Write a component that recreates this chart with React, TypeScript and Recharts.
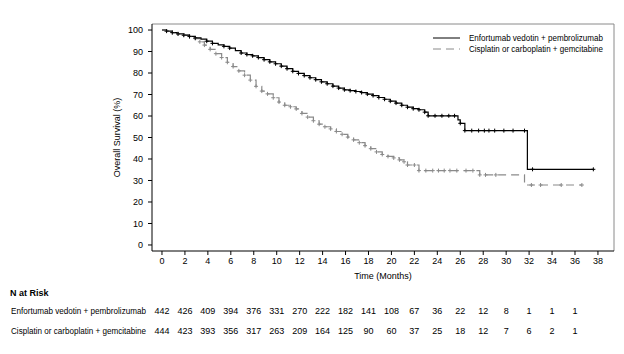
import { Legend, Line, LineChart, ReferenceLine, XAxis, YAxis } from "recharts";

// [months, survival %, censored mark]
const evpCurve: [number, number, number][] = [
  [0, 100, 0], [0.4, 99.5, 1], [0.9, 98.8, 1], [1.4, 98.2, 1], [1.9, 97.6, 1],
  [2.4, 97, 1], [2.9, 96.3, 1], [3.4, 95.8, 0], [3.9, 94.8, 1], [4.4, 93.8, 1],
  [4.9, 93.1, 0], [5.4, 92.4, 1], [5.9, 91.6, 1], [6.4, 90.4, 0], [6.9, 89.3, 1],
  [7.4, 88.6, 1], [7.9, 88, 1], [8.4, 87.2, 1], [8.9, 86.2, 1], [9.4, 85.2, 1],
  [9.9, 84.3, 1], [10.4, 83.2, 1], [10.9, 82, 1], [11.4, 80.8, 1], [11.9, 79.8, 1],
  [12.4, 78.8, 1], [12.9, 77.8, 1], [13.4, 76.9, 1], [13.9, 75.9, 1], [14.4, 75, 1],
  [14.9, 73.9, 1], [15.4, 73, 1], [15.9, 72.2, 1], [16.4, 71.8, 1], [16.9, 71.4, 1],
  [17.4, 70.9, 1], [17.9, 70.2, 1], [18.4, 69.5, 1], [18.9, 68.6, 1], [19.4, 67.8, 1],
  [19.9, 66.9, 1], [20.4, 66, 1], [20.9, 65, 1], [21.4, 64.1, 1], [21.9, 63.4, 1],
  [22.4, 62.9, 1], [22.9, 61.8, 1], [23.2, 60.1, 1], [23.8, 60.1, 1], [24.4, 60.1, 1],
  [25, 60.1, 1], [25.5, 60.1, 1], [25.8, 58.2, 0], [26, 56.6, 1], [26.4, 53.2, 1],
  [27, 53.2, 1], [27.6, 53.2, 1], [28.1, 53.2, 1], [28.5, 53.2, 1], [29, 53.2, 1],
  [29.8, 53.2, 1], [30.6, 53.2, 1], [31.6, 53.2, 1], [31.85, 35.2, 0], [32.3, 35.2, 1],
  [37.6, 35.2, 1],
];

const chemoCurve: [number, number, number][] = [
  [0, 100, 0], [0.4, 99.5, 1], [0.9, 98.8, 1], [1.4, 98.2, 1], [1.9, 97.6, 1],
  [2.4, 96.9, 1], [2.9, 96, 1], [3.3, 94.5, 1], [3.7, 93, 1], [4.2, 91, 1],
  [4.7, 89, 1], [5.2, 87.2, 1], [5.7, 85, 1], [6.2, 83, 1], [6.7, 81, 1],
  [7.2, 79, 1], [7.7, 76.7, 1], [8.2, 73.8, 1], [8.7, 71.6, 1], [9.2, 70.3, 1],
  [9.7, 68.5, 1], [10.2, 66.5, 1], [10.7, 65, 1], [11.2, 64.3, 1], [11.7, 63.3, 1],
  [12.2, 61.2, 1], [12.7, 59.5, 1], [13.2, 57.8, 1], [13.7, 56.2, 1], [14.2, 55, 1],
  [14.7, 54, 1], [15.2, 52.8, 1], [15.7, 51.5, 1], [16.2, 50.2, 1], [16.7, 48.9, 1],
  [17.2, 47.6, 1], [17.7, 46.2, 1], [18.2, 44.8, 1], [18.7, 43.3, 1], [19.2, 42.1, 1],
  [19.7, 41.2, 1], [20.2, 40.5, 1], [20.7, 39.6, 1], [21.1, 38.7, 1], [21.4, 37.2, 1],
  [22, 37.2, 1], [22.4, 34.6, 1], [23, 34.6, 1], [23.6, 34.6, 1], [24.1, 34.6, 1],
  [24.6, 34.6, 1], [25.1, 34.6, 1], [25.7, 34.6, 1], [26.5, 34.6, 1], [27.1, 34.6, 1],
  [27.7, 32.6, 1], [28.2, 32.6, 1], [29.1, 32.6, 1], [31.6, 27.9, 0], [32.2, 27.9, 1],
  [33, 27.9, 1], [34.8, 27.9, 1], [36.6, 27.9, 1],
];

const timeTicks = [0, 2, 4, 6, 8, 10, 12, 14, 16, 18, 20, 22, 24, 26, 28, 30, 32, 34, 36, 38];
const survivalTicks = [0, 10, 20, 30, 40, 50, 60, 70, 80, 90, 100];
const riskTimes = [0, 2, 4, 6, 8, 10, 12, 14, 16, 18, 20, 22, 24, 26, 28, 30, 32, 34, 36];
const evpAtRisk = [442, 426, 409, 394, 376, 331, 270, 222, 182, 141, 108, 67, 36, 22, 12, 8, 1, 1, 1];
const chemoAtRisk = [444, 423, 393, 356, 317, 263, 209, 164, 125, 90, 60, 37, 25, 18, 12, 7, 6, 2, 1];

const evpName = "Enfortumab vedotin + pembrolizumab";
const chemoName = "Cisplatin or carboplatin + gemcitabine";

const xDomain = [-0.87, 39.4];
const yDomain = [-2.8, 102.8];
const gray = "#8a8a8a";
const font = "'Liberation Sans Narrow', 'Arial Narrow', 'Liberation Sans', Arial, sans-serif";

const toRows = (curve: [number, number, number][]) =>
  curve.map(([t, s, c]) => ({ t, s, c }));

function CensorMark(props: any) {
  const { cx, cy, payload, stroke, index } = props;
  if (!payload || !payload.c || cx == null || cy == null) return <g key={index} />;
  return (
    <path
      key={index}
      d={`M${cx - 2},${cy}h4M${cx},${cy - 2}v4`}
      stroke={stroke}
      strokeWidth={1}
      fill="none"
    />
  );
}

// time label plus the two at-risk counts under it
function TimeTick({ x, y, payload }: any) {
  const i = riskTimes.indexOf(payload.value);
  return (
    <g fontSize={9} fill="#000" textAnchor="middle">
      <text x={x} y={y + 4} dominantBaseline="central">
        {payload.value}
      </text>
      {i >= 0 && (
        <text x={x} y={y + 54} dominantBaseline="central">
          {evpAtRisk[i]}
        </text>
      )}
      {i >= 0 && (
        <text x={x} y={y + 74} dominantBaseline="central">
          {chemoAtRisk[i]}
        </text>
      )}
    </g>
  );
}

function TimeLabel({ viewBox }: any) {
  const { x, y, width } = viewBox;
  return (
    <g fontSize={8.5} fill="#000">
      <text x={x + width / 2} y={y + 25} fontSize={9} textAnchor="middle" dominantBaseline="central">
        Time (Months)
      </text>
      <text x={10} y={y + 42} fontSize={9} dominantBaseline="central" fontWeight="bold">
        N at Risk
      </text>
      <text x={11} y={y + 60} dominantBaseline="central" textLength={135} lengthAdjust="spacingAndGlyphs">
        {evpName}
      </text>
      <text x={11} y={y + 80} dominantBaseline="central" textLength={135} lengthAdjust="spacingAndGlyphs">
        {chemoName}
      </text>
    </g>
  );
}

function LegendBox() {
  return (
    <svg width={192} height={26} style={{ display: "block" }}>
      <line x1={8} x2={35} y1={8} y2={8} stroke="#000" />
      <text x={44} y={8} dominantBaseline="central" fontSize={8.5} textLength={134} lengthAdjust="spacingAndGlyphs">
        {evpName}
      </text>
      <line x1={8} x2={35} y1={19} y2={19} stroke={gray} strokeDasharray="8 5" />
      <text x={44} y={19} dominantBaseline="central" fontSize={8.5} textLength={134} lengthAdjust="spacingAndGlyphs">
        {chemoName}
      </text>
    </svg>
  );
}

export default function App() {
  const tickStyle = { fill: "#000", fontSize: 9 };
  return (
    <div style={{ position: "absolute", left: 0, top: 0, fontFamily: font, background: "#fff" }}>
      <LineChart width={624} height={354} margin={{ top: 24, right: 10, left: 0, bottom: 72 }}>
        <XAxis
          xAxisId="t"
          dataKey="t"
          type="number"
          domain={xDomain}
          ticks={timeTicks}
          interval={0}
          allowDataOverflow
          height={31}
          stroke="#000"
          tickSize={4}
          tickMargin={2}
          tick={<TimeTick />}
          label={<TimeLabel />}
        />
        <YAxis
          yAxisId="s"
          type="number"
          domain={yDomain}
          ticks={survivalTicks}
          interval={0}
          allowDataOverflow
          width={152}
          stroke="#000"
          tickSize={4}
          tickMargin={5}
          tick={tickStyle}
          label={{ value: "Overall Survival (%)", angle: -90, position: "center", dx: 41, fill: "#000", fontSize: 9 }}
        />
        <ReferenceLine xAxisId="t" yAxisId="s" y={yDomain[1]} stroke={gray} />
        <ReferenceLine xAxisId="t" yAxisId="s" x={xDomain[1]} stroke={gray} />
        <Legend
          layout="vertical"
          align="center"
          verticalAlign="middle"
          wrapperStyle={{ top: 30, left: 425, width: 192, height: 26 }}
          content={LegendBox}
        />
        <Line
          data={toRows(chemoCurve)}
          xAxisId="t"
          yAxisId="s"
          dataKey="s"
          type="stepAfter"
          stroke={gray}
          strokeWidth={1.2}
          strokeDasharray="8 5"
          dot={CensorMark}
          activeDot={false}
          isAnimationActive={false}
        />
        <Line
          data={toRows(evpCurve)}
          xAxisId="t"
          yAxisId="s"
          dataKey="s"
          type="stepAfter"
          stroke="#000"
          strokeWidth={1.2}
          dot={CensorMark}
          activeDot={false}
          isAnimationActive={false}
        />
      </LineChart>
    </div>
  );
}
